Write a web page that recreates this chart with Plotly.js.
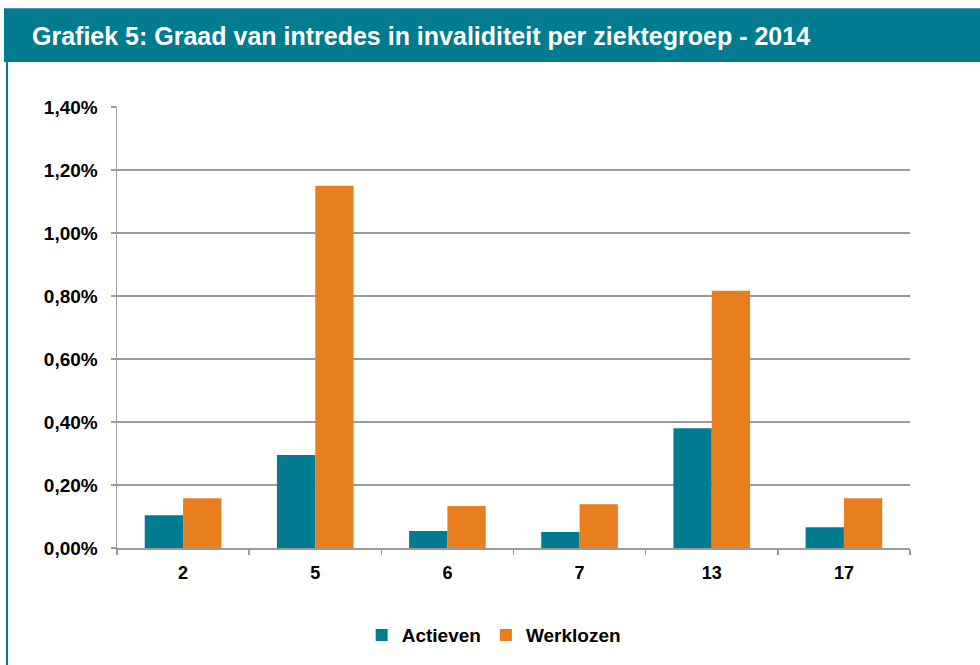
<!DOCTYPE html>
<html>
<head>
<meta charset="utf-8">
<script src="https://cdn.plot.ly/plotly-3.0.1.min.js"></script>
<style>
  html, body { margin: 0; padding: 0; background: #fff; }
  #chart { width: 980px; height: 665px; }
</style>
</head>
<body>
<div id="chart"></div>
<script>
// Ziektegroepen (categories)
var groepen = ['2', '5', '6', '7', '13', '17'];

// Graad van intredes in invaliditeit (%)
var actieven = [0.104, 0.295, 0.054, 0.051, 0.380, 0.066];
var werklozen = [0.158, 1.150, 0.133, 0.139, 0.817, 0.158];

var teal = '#007B8F';
var orange = '#E87E1E';
var font = 'Liberation Sans, Arial, sans-serif';

var trace1 = {
  x: groepen,
  y: actieven,
  name: 'Actieven',
  type: 'bar',
  marker: { color: teal },
  hoverinfo: 'y+name'
};

var trace2 = {
  x: groepen,
  y: werklozen,
  name: 'Werklozen',
  type: 'bar',
  marker: { color: orange },
  hoverinfo: 'y+name'
};

// plot area: x 117..910, y 107..549 (px)
var layout = {
  width: 980,
  height: 665,
  margin: { l: 117, r: 70, t: 107, b: 116 },
  paper_bgcolor: '#fff',
  plot_bgcolor: '#fff',
  separators: ', ',
  barmode: 'group',
  bargap: 0.42,
  bargroupgap: 0,
  font: { family: font, size: 18, color: '#000' },
  xaxis: {
    type: 'category',
    showgrid: false,
    showline: true,
    linecolor: '#9A9A9A',
    linewidth: 1.5,
    ticks: 'outside',
    tickson: 'boundaries',
    ticklen: 5,
    tickcolor: '#9A9A9A',
    tickwidth: 1.5,
    ticklabelstandoff: 8,
    tickfont: { family: font, size: 18, color: '#000', weight: 'bold' },
    fixedrange: true
  },
  yaxis: {
    range: [0, 1.4],
    dtick: 0.2,
    tickformat: '.2f',
    ticksuffix: '%',
    showgrid: true,
    gridcolor: '#9A9A9A',
    gridwidth: 1.6,
    zeroline: false,
    showline: true,
    linecolor: '#9A9A9A',
    linewidth: 1.5,
    ticks: 'outside',
    ticklen: 5,
    tickcolor: '#9A9A9A',
    tickwidth: 1.5,
    ticklabelstandoff: 9,
    tickfont: { family: font, size: 19, color: '#000', weight: 'bold' },
    fixedrange: true
  },
  legend: {
    orientation: 'h',
    x: 0.475,
    xanchor: 'center',
    y: -0.195,
    yanchor: 'middle',
    font: { family: font, size: 19, color: '#000', weight: 'bold' },
    itemwidth: 30,
    traceorder: 'normal'
  },
  shapes: [
    // title band
    {
      type: 'rect', xref: 'paper', yref: 'paper',
      x0: -0.1425, x1: 1.09, y0: 1.1018, y1: 1.224,
      fillcolor: teal, line: { width: 0 }, layer: 'below'
    },
    // left frame line
    {
      type: 'line', xref: 'paper', yref: 'paper',
      x0: -0.1387, x1: -0.1387, y0: 1.11, y1: -0.27,
      line: { color: teal, width: 2 }
    }
  ],
  annotations: [
    {
      xref: 'paper', yref: 'paper',
      x: -0.1097, y: 1.1606,
      xanchor: 'left', yanchor: 'middle',
      text: 'Grafiek 5: Graad van intredes in invaliditeit per ziektegroep - 2014',
      showarrow: false,
      font: { family: font, size: 25, color: '#fff', weight: 'bold' }
    }
  ]
};

Plotly.newPlot('chart', [trace1, trace2], layout, { displayModeBar: false, staticPlot: true });
</script>
</body>
</html>
